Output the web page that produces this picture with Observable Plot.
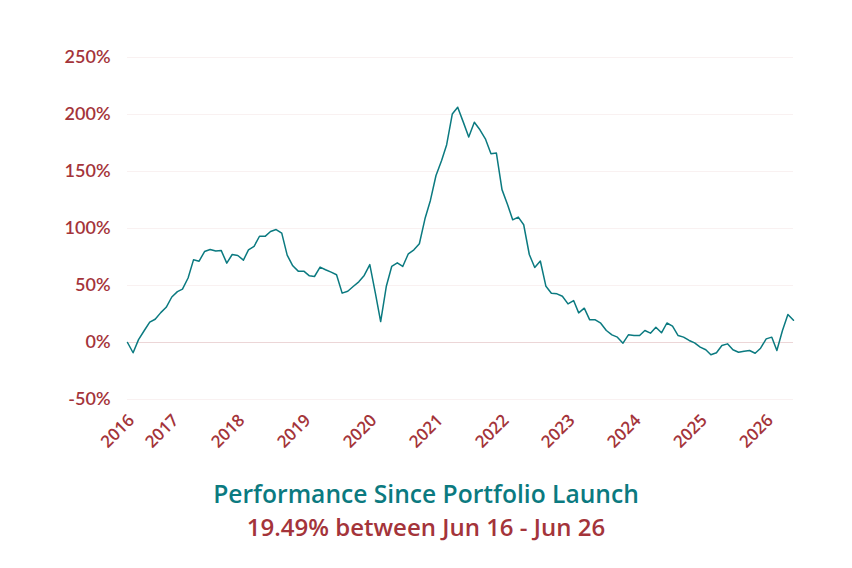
<!DOCTYPE html>
<html>
<head>
<meta charset="utf-8">
<script src="https://cdn.jsdelivr.net/npm/d3@7"></script>
<script src="https://cdn.jsdelivr.net/npm/@observablehq/plot@0.6"></script>
<style>
  body { margin: 0; background: #fff; font-family: "Open Sans", sans-serif; }
  #chart svg { display: block; }
  #titles { width: 852px; text-align: center; font-size: 24px; font-weight: 600; line-height: 33px; padding-top: 12px; }
  #t1 { color: #0b7a80; font-size: 24.6px; }
  #t2 { color: #a4343a; }
</style>
</head>
<body>
<div id="chart"></div>
<div id="titles">
  <div id="t1">Performance Since Portfolio Launch</div>
  <div id="t2">19.49% between Jun 16 - Jun 26</div>
</div>
<script>
// Monthly performance (%) starting May 2016
const startYear = 2016;
const startMonth = 4; // May (0-based)
const performance = [
  0, -9, 2.5, 10.3, 17.8, 20.4, 26.2, 30.9, 39.9, 44.6,
  46.8, 56.6, 72.5, 71.3, 79.8, 81.6, 80.2, 80.8, 69.6, 77.2,
  76.3, 72.2, 81.3, 84.4, 93.2, 93.1, 97.4, 99.1, 96, 76.6,
  67.3, 62.6, 62.6, 58.5, 57.9, 66.1, 63.8, 61.7, 59.4, 43.3,
  45, 49.1, 53.2, 58.8, 68.3, 43, 18.4, 49.1, 66.7, 69.9,
  66.7, 77.8, 81.3, 86.6, 108.5, 124.6, 146.5, 159.6, 173.5, 200.4,
  206.4, 193.3, 180.3, 193.2, 186.6, 178.7, 165.5, 166.2, 134.1, 120.8,
  107.6, 110, 103.3, 77.2, 65.8, 71.5, 49.3, 43.2, 42.7, 40.6,
  33.9, 36.8, 26, 30.1, 19.9, 19.9, 16.9, 10.5, 6.7, 4.7,
  -0.6, 6.7, 6.1, 6.1, 10.5, 8.2, 13.4, 8.5, 17.1, 14.3,
  6.1, 4.7, 1.8, -0.3, -4.1, -6.4, -10.8, -9, -2.6, -1.2,
  -6.4, -8.5, -7.6, -7, -9.4, -5, 3.2, 4.7, -7, 10.5,
  24.6, 19.49
];
const yTicks = [-50, 0, 50, 100, 150, 200, 250];
const tickYears = [2017, 2018, 2019, 2020, 2021, 2022, 2023, 2024, 2025, 2026];

const dates = performance.map((_, i) => new Date(Date.UTC(startYear, startMonth + i, 1)));
const data = performance.map((v, i) => ({date: dates[i], value: v}));
const xTicks = [dates[0], ...tickYears.map(y => new Date(Date.UTC(y, 0, 1)))];

const red = "#a4343a";
const teal = "#0b7a80";

const chart = Plot.plot({
  width: 852,
  height: 465,
  marginLeft: 127,
  marginRight: 59,
  marginTop: 57,
  marginBottom: 66,
  x: {type: "utc", domain: [dates[0], dates[dates.length - 1]]},
  y: {domain: [-50, 250]},
  style: {fontFamily: "Lato, 'Open Sans', sans-serif", fontSize: "18px", color: red, background: "#fff"},
  marks: [
    Plot.gridY(yTicks, {stroke: red, strokeOpacity: 0.07, strokeWidth: 1}),
    Plot.ruleY([0], {stroke: red, strokeOpacity: 0.14, strokeWidth: 1.2}),
    Plot.axisY(yTicks, {tickSize: 0, tickPadding: 17, tickFormat: d => d + "%", fontWeight: 600, fontSize: 18, label: null}),
    Plot.axisX(xTicks, {tickSize: 0, tickPadding: 18, dx: 4, tickRotate: -45, tickFormat: d => String(d.getUTCFullYear()), fontWeight: 600, fontFamily: "'Open Sans', sans-serif", fontSize: 17, label: null}),
    Plot.lineY(data, {x: "date", y: "value", stroke: teal, strokeWidth: 1.5})
  ]
});
document.getElementById("chart").appendChild(chart);
</script>
</body>
</html>
